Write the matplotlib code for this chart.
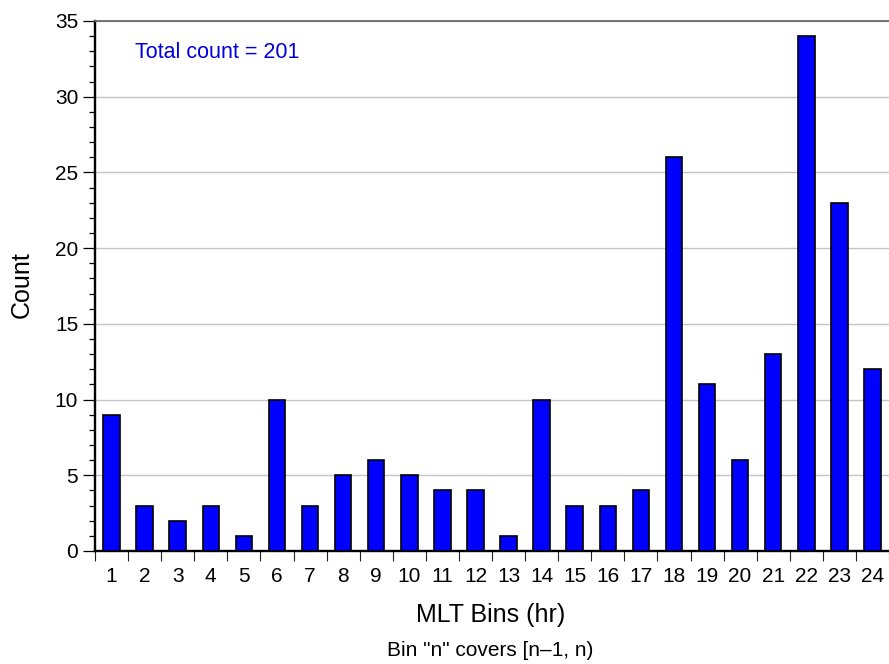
import matplotlib
matplotlib.use("Agg")
import matplotlib.pyplot as plt
from matplotlib.ticker import MultipleLocator, FixedLocator

plt.rcParams['font.family'] = ['Liberation Sans', 'DejaVu Sans']

bins = list(range(1, 25))
counts = [9, 3, 2, 3, 1, 10, 3, 5, 6, 5, 4, 4, 1, 10, 3, 3, 4, 26, 11, 6, 13, 34, 23, 12]
tick_labels = [str(b) for b in bins]
total_text = "Total count = 201"

W, H = 889, 664
fig = plt.figure(figsize=(W / 100, H / 100), dpi=100)
ax = fig.add_axes([95 / W, (H - 551) / H, (W - 95) / W, (551 - 21) / H])

ax.bar(bins, counts, width=0.5, color='#0000ff', edgecolor='black', linewidth=1.2, zorder=3)

ax.set_xlim(0.5, 24.5)
ax.set_ylim(0, 35)

# y axis
ax.yaxis.set_major_locator(MultipleLocator(5))
ax.yaxis.set_minor_locator(MultipleLocator(1))
ax.tick_params(axis='y', which='major', direction='out', length=8.6, width=0.9,
               labelsize=15, pad=3.5, colors='black')
ax.tick_params(axis='y', which='minor', direction='out', length=4.3, width=0.9, colors='black')

# x axis: labels at bar centers, ticks at bin boundaries
ax.xaxis.set_major_locator(FixedLocator(bins))
ax.set_xticklabels(tick_labels)
ax.xaxis.set_minor_locator(FixedLocator([b - 0.5 for b in bins] + [24.5]))
ax.tick_params(axis='x', which='major', length=0, labelsize=15, pad=11.5)
ax.tick_params(axis='x', which='minor', direction='out', length=7.2, width=0.8, colors='#222222')

ax.grid(axis='y', which='major', color='#c4c4c4', linewidth=1.0, zorder=0)
ax.set_axisbelow(True)

for s in ['left', 'bottom']:
    ax.spines[s].set_linewidth(1.7)
    ax.spines[s].set_color('black')
ax.spines['right'].set_visible(False)
ax.spines['top'].set_color('#6a6a6a')
ax.spines['top'].set_linewidth(1.3)

ax.text(0.0503, 0.94, total_text, transform=ax.transAxes, color='#0000dd',
        fontsize=15.5, ha='left', va='center')

fig.text(22 / W, 1 - 285 / H, 'Count', rotation=90, ha='center', va='center', fontsize=18)
fig.text(491 / W, 1 - 621.7 / H, 'MLT Bins (hr)', ha='center', va='baseline', fontsize=18)
fig.text(490 / W, 1 - 656 / H, 'Bin "n" covers [n\u20131, n)', ha='center', va='baseline', fontsize=15)

fig.savefig('out.png', dpi=100)
